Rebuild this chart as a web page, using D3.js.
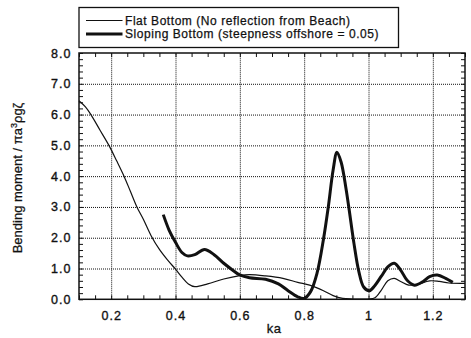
<!DOCTYPE html>
<html>
<head>
<meta charset="utf-8">
<script src="https://cdn.jsdelivr.net/npm/d3@7"></script>
<style>
  html, body { margin: 0; padding: 0; background: #fff; }
  svg { display: block; font-family: "Liberation Sans", Arial, Helvetica, sans-serif; }
</style>
</head>
<body>
<div id="chart"></div>
<script>
// values
const seriesNames = ['Flat Bottom (No reflection from Beach)', 'Sloping Bottom (steepness offshore = 0.05)'];

const flatKa = [0.10, 0.12, 0.137, 0.165, 0.193, 0.217, 0.24, 0.26, 0.28, 0.30, 0.325, 0.35, 0.375, 0.40, 0.42, 0.44, 0.46, 0.50, 0.55, 0.60, 0.63, 0.68, 0.734, 0.78, 0.817, 0.86, 0.89, 0.92, 0.95, 1.00, 1.02, 1.04, 1.06, 1.08, 1.10, 1.125, 1.15, 1.19, 1.22, 1.25, 1.30];
const flatVal = [6.45, 6.25, 6.0, 5.5, 5.0, 4.5, 4.0, 3.5, 3.0, 2.6, 2.05, 1.62, 1.28, 0.98, 0.72, 0.5, 0.41, 0.5, 0.66, 0.77, 0.8, 0.76, 0.68, 0.55, 0.46, 0.28, 0.12, 0.03, 0.01, 0.01, 0.05, 0.3, 0.6, 0.68, 0.58, 0.46, 0.48, 0.6, 0.58, 0.53, 0.52];

const slopeKa = [0.362, 0.38, 0.40, 0.42, 0.437, 0.46, 0.49, 0.52, 0.55, 0.58, 0.60, 0.63, 0.68, 0.72, 0.75, 0.78, 0.80, 0.82, 0.84, 0.86, 0.875, 0.89, 0.902, 0.915, 0.93, 0.94, 0.955, 0.97, 0.985, 1.003, 1.02, 1.04, 1.06, 1.08, 1.10, 1.12, 1.143, 1.17, 1.19, 1.214, 1.24, 1.262];
const slopeVal = [2.75, 2.25, 1.85, 1.52, 1.41, 1.45, 1.62, 1.45, 1.17, 0.93, 0.79, 0.7, 0.65, 0.5, 0.28, 0.08, 0.03, 0.25, 0.85, 1.95, 3.0, 4.2, 4.78, 4.45, 3.6, 2.9, 1.8, 0.9, 0.4, 0.28, 0.45, 0.75, 1.05, 1.17, 0.95, 0.62, 0.46, 0.58, 0.74, 0.79, 0.68, 0.55];

const xTickValues = [0.2, 0.4, 0.6, 0.8, 1.0, 1.2];
const xTickLabels = ['0.2', '0.4', '0.6', '0.8', '1', '1.2'];
const yTickValues = [0, 1, 2, 3, 4, 5, 6, 7, 8];
const yTickLabels = ['0.0', '1.0', '2.0', '3.0', '4.0', '5.0', '6.0', '7.0', '8.0'];
const xMinorValues = d3.range(0.1, 1.3001, 0.05);
const yMinorValues = d3.range(0, 8.001, 0.2);

const W = 471, H = 338;
const margin = { top: 53, right: 6, bottom: 38.7, left: 79 };

const svg = d3.select('#chart').append('svg')
  .attr('width', W).attr('height', H);

const x = d3.scaleLinear().domain([0.1, 1.3]).range([margin.left, W - margin.right]);
const y = d3.scaleLinear().domain([0, 8]).range([H - margin.bottom, margin.top]);
const plotW = x.range()[1] - x.range()[0];
const plotH = y.range()[0] - y.range()[1];

// dotted grid
const gx = svg.append('g')
  .attr('transform', `translate(0,${y(0)})`)
  .call(d3.axisBottom(x).tickValues(xTickValues).tickSize(-plotH).tickFormat(''));
const gy = svg.append('g')
  .attr('transform', `translate(${x(0.1)},0)`)
  .call(d3.axisLeft(y).tickValues(yTickValues.slice(1, -1)).tickSize(-plotW).tickFormat(''));
[gx, gy].forEach(g => {
  g.select('.domain').remove();
  g.selectAll('line').attr('stroke', '#111').attr('stroke-width', 1).attr('stroke-dasharray', '1,1');
});

// minor ticks on all four sides (pointing inward)
const minor = [
  [d3.axisBottom(x).tickValues(xMinorValues).tickSize(-4), `translate(0,${y(0)})`],
  [d3.axisTop(x).tickValues(xMinorValues).tickSize(-4), `translate(0,${y(8)})`],
  [d3.axisLeft(y).tickValues(yMinorValues).tickSize(-4), `translate(${x(0.1)},0)`],
  [d3.axisRight(y).tickValues(yMinorValues).tickSize(-4), `translate(${x(1.3)},0)`]
];
minor.forEach(([ax, tr]) => {
  const g = svg.append('g').attr('transform', tr).call(ax.tickFormat(''));
  g.select('.domain').remove();
  g.selectAll('line').attr('stroke', '#111').attr('stroke-width', 1);
});

// frame
svg.append('rect')
  .attr('x', x(0.1)).attr('y', y(8))
  .attr('width', plotW).attr('height', plotH)
  .attr('fill', 'none').attr('stroke', '#111').attr('stroke-width', 1.5);

// tick labels
const xl = svg.append('g')
  .attr('transform', `translate(0,${y(0)})`)
  .call(d3.axisBottom(x).tickValues(xTickValues).tickSize(0).tickPadding(11.5)
    .tickFormat((d, i) => xTickLabels[i]));
const yl = svg.append('g')
  .attr('transform', `translate(${x(0.1)},0)`)
  .call(d3.axisLeft(y).tickValues(yTickValues).tickSize(0).tickPadding(7.5)
    .tickFormat((d, i) => yTickLabels[i]));
[xl, yl].forEach(g => {
  g.select('.domain').remove();
  g.selectAll('text')
    .attr('fill', '#111')
    .attr('stroke', '#111').attr('stroke-width', 0.35)
    .style('font-size', '12.5px')
    .style('letter-spacing', '1px')
    .style('font-family', '"Liberation Sans", Arial, sans-serif');
});

// curves
const line = d3.line()
  .x(d => x(d[0]))
  .y(d => y(d[1]))
  .curve(d3.curveCatmullRom.alpha(0.5));

svg.append('path')
  .datum(flatKa.map((k, i) => [k, flatVal[i]]))
  .attr('d', line)
  .attr('fill', 'none').attr('stroke', '#111').attr('stroke-width', 1.2);

svg.append('path')
  .datum(slopeKa.map((k, i) => [k, slopeVal[i]]))
  .attr('d', line)
  .attr('fill', 'none').attr('stroke', '#111').attr('stroke-width', 3)
  .attr('stroke-linejoin', 'round').attr('stroke-linecap', 'butt');

// axis titles
svg.append('text')
  .attr('x', (x(0.1) + x(1.3)) / 2 + 2)
  .attr('y', 333)
  .attr('text-anchor', 'middle')
  .attr('fill', '#111')
  .attr('stroke', '#111').attr('stroke-width', 0.3)
  .style('font-size', '13px')
  .style('letter-spacing', '0.5px')
  .text('ka');

const yTitle = svg.append('text')
  .attr('transform', 'translate(22,178) rotate(-90)')
  .attr('text-anchor', 'middle')
  .attr('fill', '#111')
  .attr('stroke', '#111').attr('stroke-width', 0.25)
  .style('font-size', '13px');
yTitle.append('tspan').text('Bending moment / πa');
yTitle.append('tspan').attr('dy', -5).style('font-size', '9px').text('3');
yTitle.append('tspan').attr('dy', 5).text('ρgζ');

// legend
const legend = svg.append('g');
legend.append('rect')
  .attr('x', 79).attr('y', 7.5).attr('width', 319.5).attr('height', 40)
  .attr('fill', '#fff').attr('stroke', '#111').attr('stroke-width', 1.3);
const legendWidths = [1.2, 3];
seriesNames.forEach((name, i) => {
  const ly = 20.5 + i * 13.5;
  legend.append('line')
    .attr('x1', 86).attr('x2', 122.5).attr('y1', ly).attr('y2', ly)
    .attr('stroke', '#111').attr('stroke-width', legendWidths[i]);
  legend.append('text')
    .attr('x', 125).attr('y', ly + 4.2)
    .attr('fill', '#111')
    .attr('stroke', '#111').attr('stroke-width', 0.25)
    .style('font-size', '12px')
    .style('letter-spacing', '0.55px')
    .text(name);
});
</script>
</body>
</html>
